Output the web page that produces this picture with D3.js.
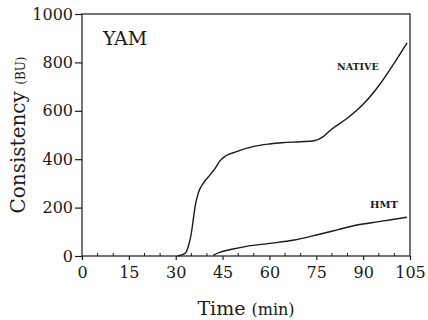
<!DOCTYPE html>
<html>
<head>
<meta charset="utf-8">
<script src="https://cdn.jsdelivr.net/npm/d3@7"></script>
<style>
  html, body { margin: 0; padding: 0; background: #fff; }
  svg { display: block; font-family: "DejaVu Serif", serif; }
</style>
</head>
<body>
<svg id="chart" width="428" height="320"></svg>
<script>
// Brabender viscoamylogram of yam starch: native vs. heat-moisture treated
const xTicks = [0, 15, 30, 45, 60, 75, 90, 105];
const yTicks = [0, 200, 400, 600, 800, 1000];

const nativeTime = [30.5, 33, 34, 35, 35.6, 36.2, 37.2, 38.8, 41, 42.6, 44.2, 45.8, 49.5, 55, 60, 64, 70, 74.3, 76.9, 79.6, 84.9, 90.3, 95.6, 99.9, 104.1];
const nativeBU   = [0, 11, 38, 94, 149, 204, 259, 300, 335, 362, 394, 412, 431, 453, 463, 468, 472, 476, 490, 521, 569, 631, 714, 796, 881];

const hmtTime = [42, 44, 48, 53, 60, 68, 76, 82, 88, 95, 104];
const hmtBU   = [3, 15, 28, 41, 52, 66, 90, 109, 128, 142, 160];

const svg = d3.select("#chart");
const ink = "#1a1a1a";

const x = d3.scaleLinear().domain([0, 105]).range([82, 410]);
const y = d3.scaleLinear().domain([0, 1000]).range([256, 14]);

// frame
svg.append("rect")
  .attr("x", x(0)).attr("y", y(1000))
  .attr("width", x(105) - x(0)).attr("height", y(0) - y(1000))
  .attr("fill", "none").attr("stroke", ink).attr("stroke-width", 1.2);

// x axis: major ticks outside, minor ticks inside
const xAxis = svg.append("g")
  .attr("transform", `translate(0,${y(0)})`)
  .call(d3.axisBottom(x).tickValues(xTicks).tickSize(4).tickPadding(7).tickFormat(d3.format("d")));
xAxis.select(".domain").remove();
xAxis.selectAll("line").attr("stroke", ink).attr("stroke-width", 1.2);
xAxis.selectAll("text").attr("font-size", 16).attr("fill", ink).attr("font-family", "DejaVu Serif");

const minor = d3.range(0, 106, 5).filter(d => d % 15 !== 0);
svg.append("g").selectAll("line").data(minor).join("line")
  .attr("x1", d => x(d)).attr("x2", d => x(d))
  .attr("y1", y(0)).attr("y2", y(0) - 3)
  .attr("stroke", ink).attr("stroke-width", 1);

// y axis
const yAxis = svg.append("g")
  .attr("transform", `translate(${x(0)},0)`)
  .call(d3.axisLeft(y).tickValues(yTicks).tickSize(7).tickPadding(2).tickFormat(d3.format("d")));
yAxis.select(".domain").remove();
yAxis.selectAll("line").attr("stroke", ink).attr("stroke-width", 1.2);
yAxis.selectAll("text").attr("font-size", 16).attr("fill", ink).attr("font-family", "DejaVu Serif");

// curves
const line = d3.line()
  .x(d => x(d[0])).y(d => y(d[1]))
  .curve(d3.curveMonotoneX);

svg.append("path")
  .datum(d3.zip(nativeTime, nativeBU))
  .attr("d", line)
  .attr("fill", "none").attr("stroke", ink).attr("stroke-width", 1.4);

svg.append("path")
  .datum(d3.zip(hmtTime, hmtBU))
  .attr("d", line)
  .attr("fill", "none").attr("stroke", ink).attr("stroke-width", 1.4);

// labels inside the plot
svg.append("text").attr("x", 103).attr("y", 45)
  .attr("font-size", 19).attr("fill", ink).text("YAM");
svg.append("text").attr("x", 337).attr("y", 69.5)
  .attr("font-size", 9.5).attr("font-weight", "bold").attr("fill", ink).text("NATIVE");
svg.append("text").attr("x", 370).attr("y", 208)
  .attr("font-size", 10).attr("font-weight", "bold").attr("fill", ink).text("HMT");

// axis titles
const xt = svg.append("text")
  .attr("x", (x(0) + x(105)) / 2).attr("y", 315)
  .attr("text-anchor", "middle").attr("fill", ink);
xt.append("tspan").attr("font-size", 19).text("Time ");
xt.append("tspan").attr("font-size", 16).text("(min)");

const yt = svg.append("text")
  .attr("transform", "translate(25,135) rotate(-90)")
  .attr("text-anchor", "middle").attr("fill", ink);
yt.append("tspan").attr("font-size", 20).text("Consistency ");
yt.append("tspan").attr("font-size", 12).text("(BU)");
</script>
</body>
</html>
